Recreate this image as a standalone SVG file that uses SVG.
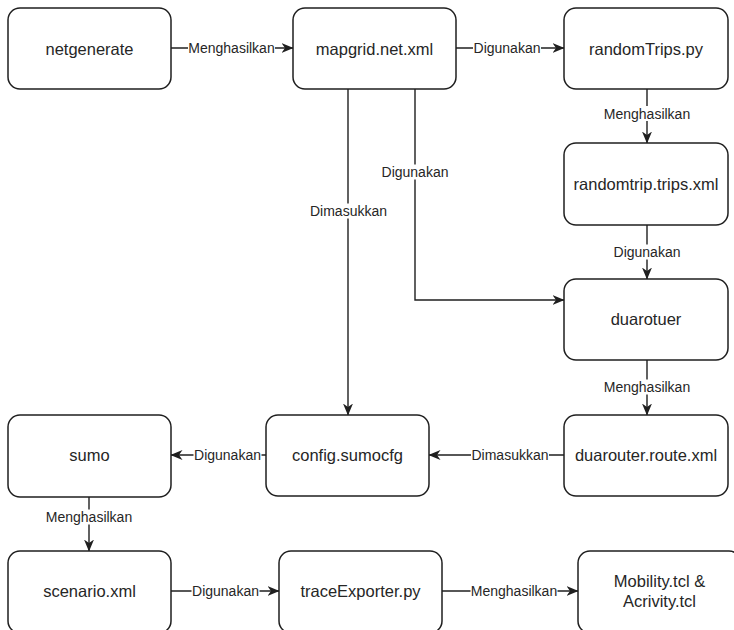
<svg xmlns="http://www.w3.org/2000/svg" width="734" height="630" viewBox="0 0 734 630">
  <style>
    .box { fill: #ffffff; stroke: #1f1f1f; stroke-width: 1.5; }
    .node-text { font-family: "Liberation Sans", Arial, sans-serif; font-size: 16.5px; fill: #262626; text-anchor: middle; dominant-baseline: central; }
    .edge { fill: none; stroke: #1f1f1f; stroke-width: 1.4; }
    .lbl-bg { fill: #ffffff; }
    .lbl { font-family: "Liberation Sans", Arial, sans-serif; font-size: 14px; fill: #262626; text-anchor: middle; dominant-baseline: central; }
  </style>
  <defs>
    <marker id="arrow" markerWidth="12" markerHeight="10" refX="11.5" refY="5" orient="auto" markerUnits="userSpaceOnUse">
      <path d="M0,0 L12,5 L0,10 L3.5,5 Z" fill="#1f1f1f"/>
    </marker>
  </defs>
  <rect width="734" height="630" fill="#ffffff"/>

  <!-- connectors -->
  <g id="connectors">
    <path class="edge" d="M171,48 L293,48" marker-end="url(#arrow)"/>
    <path class="edge" d="M456,48 L564,48" marker-end="url(#arrow)"/>
    <path class="edge" d="M647,89 L647,143" marker-end="url(#arrow)"/>
    <path class="edge" d="M647,225 L647,279" marker-end="url(#arrow)"/>
    <path class="edge" d="M415,89 L415,300 L564,300" marker-end="url(#arrow)"/>
    <path class="edge" d="M348,89 L348,415" marker-end="url(#arrow)"/>
    <path class="edge" d="M647,360 L647,415" marker-end="url(#arrow)"/>
    <path class="edge" d="M564,455 L429,455" marker-end="url(#arrow)"/>
    <path class="edge" d="M266,455 L171,455" marker-end="url(#arrow)"/>
    <path class="edge" d="M89,497 L89,551" marker-end="url(#arrow)"/>
    <path class="edge" d="M171,591 L279,591" marker-end="url(#arrow)"/>
    <path class="edge" d="M442,591 L578,591" marker-end="url(#arrow)"/>

    <!-- edge labels -->
    <rect class="lbl-bg" x="188" y="40.5" width="87" height="15"/>
    <text class="lbl" x="231.5" y="48">Menghasilkan</text>
    <rect class="lbl-bg" x="473" y="40.5" width="68" height="15"/>
    <text class="lbl" x="507" y="48">Digunakan</text>
    <rect class="lbl-bg" x="603.5" y="106" width="87" height="15"/>
    <text class="lbl" x="647" y="113.5">Menghasilkan</text>
    <rect class="lbl-bg" x="613" y="244.5" width="68" height="15"/>
    <text class="lbl" x="647" y="252">Digunakan</text>
    <rect class="lbl-bg" x="381" y="164.5" width="68" height="15"/>
    <text class="lbl" x="415" y="172">Digunakan</text>
    <rect class="lbl-bg" x="309.5" y="203.5" width="78" height="15"/>
    <text class="lbl" x="348.5" y="211">Dimasukkan</text>
    <rect class="lbl-bg" x="603.5" y="379.5" width="87" height="15"/>
    <text class="lbl" x="647" y="387">Menghasilkan</text>
    <rect class="lbl-bg" x="471" y="447.5" width="78" height="15"/>
    <text class="lbl" x="510" y="455">Dimasukkan</text>
    <rect class="lbl-bg" x="193.5" y="447.5" width="68" height="15"/>
    <text class="lbl" x="227.5" y="455">Digunakan</text>
    <rect class="lbl-bg" x="45.5" y="509.5" width="87" height="15"/>
    <text class="lbl" x="89" y="517">Menghasilkan</text>
    <rect class="lbl-bg" x="191.5" y="583.5" width="68" height="15"/>
    <text class="lbl" x="225.5" y="591">Digunakan</text>
    <rect class="lbl-bg" x="470.5" y="583.5" width="87" height="15"/>
    <text class="lbl" x="514" y="591">Menghasilkan</text>
  </g>

  <!-- nodes -->
  <g id="netgenerate">
    <rect class="box" x="8" y="8" width="163" height="81" rx="12"/>
    <text class="node-text" x="89.5" y="48.5">netgenerate</text>
  </g>
  <g id="mapgrid">
    <rect class="box" x="293" y="8" width="163" height="81" rx="12"/>
    <text class="node-text" x="374.5" y="48.5">mapgrid.net.xml</text>
  </g>
  <g id="randomTrips">
    <rect class="box" x="564" y="8" width="164" height="81" rx="12"/>
    <text class="node-text" x="646" y="48.5">randomTrips.py</text>
  </g>
  <g id="randomtrip">
    <rect class="box" x="564" y="143" width="164" height="82" rx="12"/>
    <text class="node-text" x="646" y="184">randomtrip.trips.xml</text>
  </g>
  <g id="duarotuer">
    <rect class="box" x="564" y="279" width="164" height="81" rx="12"/>
    <text class="node-text" x="646" y="319">duarotuer</text>
  </g>
  <g id="duarouter-route">
    <rect class="box" x="564" y="415" width="164" height="81" rx="12"/>
    <text class="node-text" x="646" y="455">duarouter.route.xml</text>
  </g>
  <g id="config">
    <rect class="box" x="266" y="415" width="163" height="81" rx="12"/>
    <text class="node-text" x="347.5" y="455">config.sumocfg</text>
  </g>
  <g id="sumo">
    <rect class="box" x="8" y="415" width="163" height="82" rx="12"/>
    <text class="node-text" x="89.5" y="455">sumo</text>
  </g>
  <g id="scenario">
    <rect class="box" x="8" y="551" width="163" height="82" rx="12"/>
    <text class="node-text" x="89.5" y="591">scenario.xml</text>
  </g>
  <g id="traceExporter">
    <rect class="box" x="279" y="551" width="163" height="82" rx="12"/>
    <text class="node-text" x="360.5" y="591">traceExporter.py</text>
  </g>
  <g id="mobility">
    <rect class="box" x="578" y="551" width="163" height="82" rx="12"/>
    <text class="node-text" x="659.5" y="581">Mobility.tcl &amp;</text>
    <text class="node-text" x="659.5" y="601">Acrivity.tcl</text>
  </g>
</svg>
